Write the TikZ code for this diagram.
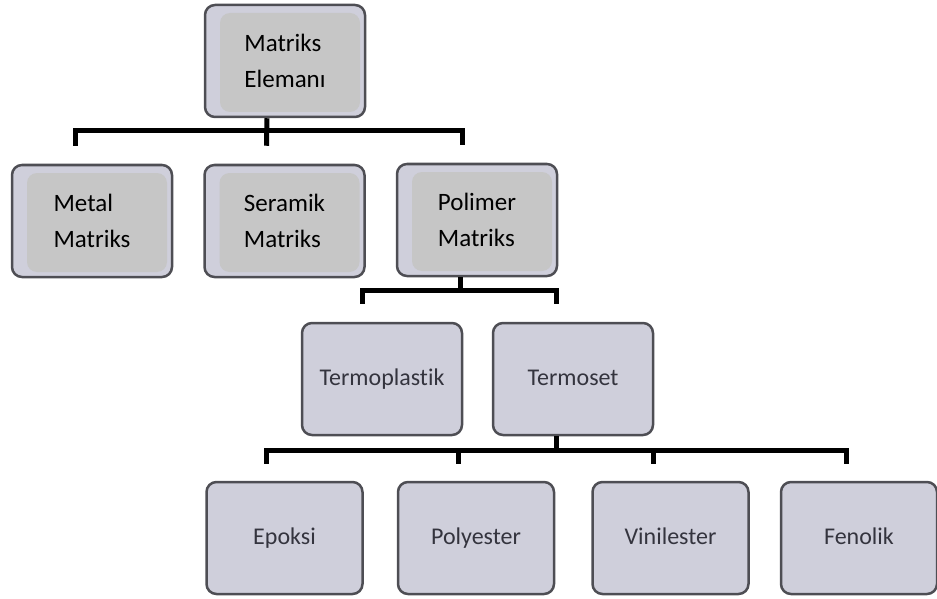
\documentclass[tikz,border=0pt]{standalone}
\usepackage{fontspec}
\setmainfont{Carlito}[Ligatures={NoCommon}]
\usepackage{tikz}
\definecolor{boxfill}{RGB}{207,207,219}
\definecolor{innerfill}{RGB}{198,198,198}
\definecolor{boxline}{RGB}{78,78,84}
\definecolor{lowtext}{RGB}{52,52,62}

\tikzset{
    box/.style={draw=boxline, line width=1.25pt, rounded corners=5pt, fill=boxfill,
        minimum width=80pt, minimum height=56pt},
    upperbox/.style={box, align=left, font=\fontsize{12.5}{17.75}\selectfont,
        path picture={\fill[innerfill]
            ([xshift=7.5pt,yshift=2.5pt]path picture bounding box.south west) rectangle
            ([xshift=-2.5pt,yshift=-4pt]path picture bounding box.north east);}},
    lowerbox/.style={box, minimum width=78pt, text=lowtext, font=\fontsize{12}{14}\selectfont,
        text height=8.5pt, text depth=2pt},
    link/.style={line width=2.5pt, line join=miter}
}

\begin{document}
\begin{tikzpicture}[x=0.5pt, y=-0.5pt]
    \useasboundingbox (0,0) rectangle (937,599);

    \node[upperbox] (eleman) at (285,61) {Matriks\\Elemanı};

    \node[upperbox] (metal) at (92,221) {Metal\\Matriks};
    \node[upperbox] (seramik) at (284.5,221) {Seramik\\Matriks};
    \node[upperbox] (polimer) at (477,220) {Polimer\\Matriks};

    \node[lowerbox, minimum width=80pt] (termoplastik) at (382,379) {Termoplastik};
    \node[lowerbox, minimum width=80pt] (termoset) at (573,379) {Termoset};

    \node[lowerbox] (epoksi) at (284.5,538) {Epoksi};
    \node[lowerbox] (polyester) at (476,538) {Polyester};
    \node[lowerbox] (vinilester) at (670.5,538) {Vinilester};
    \node[lowerbox] (fenolik) at (859,538) {Fenolik};

    % matriks elemani
    \draw[link] ([xshift=-9pt]eleman.south) -- ([xshift=-9pt,yshift=9pt]seramik.north);
    \draw[link] ([xshift=-8.5pt,yshift=9pt]metal.north) |- ([xshift=-7.5pt,yshift=16pt]polimer.north)
        -- ([xshift=-7.5pt,yshift=9pt]polimer.north);

    % polimer
    \draw[link] ([xshift=-8.5pt]polimer.south) -- ++(0,-8pt);
    \draw[link] ([xshift=-10pt,yshift=9pt]termoplastik.north) |- ([xshift=-8.5pt,yshift=15.5pt]termoset.north)
        -- ([xshift=-8.5pt,yshift=9pt]termoset.north);

    % termoset
    \draw[link] ([xshift=-8.5pt]termoset.south) -- ++(0,-8.5pt);
    \draw[link] ([xshift=-9pt,yshift=8.5pt]epoksi.north) |- ([xshift=-6.5pt,yshift=15pt]fenolik.north)
        -- ([xshift=-6.5pt,yshift=8.5pt]fenolik.north);
    \draw[link] ([xshift=-9pt,yshift=15pt]polyester.north) -- ([xshift=-9pt,yshift=8.5pt]polyester.north);
    \draw[link] ([xshift=-8.75pt,yshift=15pt]vinilester.north) -- ([xshift=-8.75pt,yshift=8.5pt]vinilester.north);
\end{tikzpicture}
\end{document}
